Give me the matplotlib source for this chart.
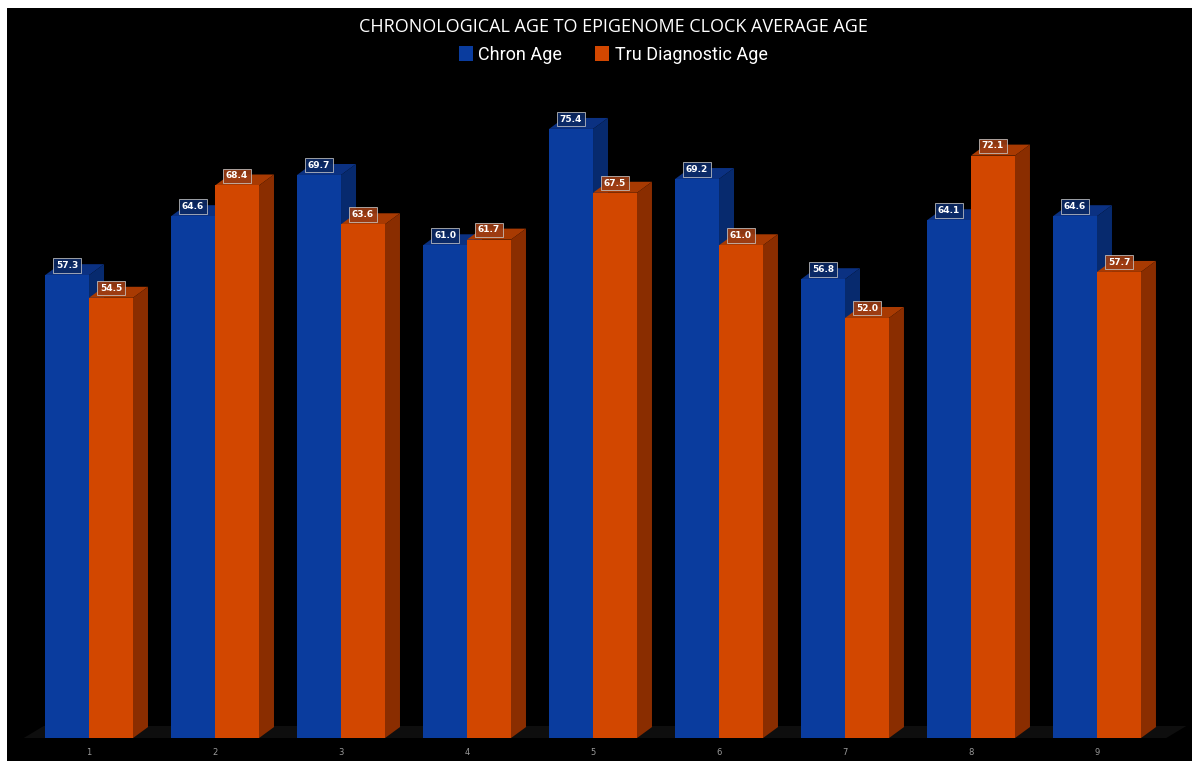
import matplotlib.pyplot as plt
from matplotlib.patches import Polygon, Patch
import numpy as np

groups = ['1', '2', '3', '4', '5', '6', '7', '8', '9']
chron_age = [57.3, 64.6, 69.7, 61.0, 75.4, 69.2, 56.8, 64.1, 64.6]
tru_age = [54.5, 68.4, 63.6, 61.7, 67.5, 61.0, 52.0, 72.1, 57.7]

title = 'CHRONOLOGICAL AGE TO EPIGENOME CLOCK AVERAGE AGE'
series_names = ['Chron Age', 'Tru Diagnostic Age']

# colours: front, top, side, label box
blue = ('#0a3c9e', '#0b3182', '#072a6e', '#0c2a66')
orange = ('#d24700', '#a83a02', '#8a2d00', '#9c3d14')

width = 0.349
dx, dy = 0.119, 1.36  # fake depth in data units

fig = plt.figure(figsize=(11.92, 7.61), dpi=100, facecolor='white')
ax = fig.add_axes([7 / 1192, 0, 1 - 7 / 1192, 1 - 8 / 761])
ax.set_facecolor('black')
ax.set_xlim(-0.651, 8.754)
ax.set_ylim(-2.84, 90.37)
ax.axis('off')
ax.add_patch(plt.Rectangle((0, 0), 1, 1, transform=ax.transAxes, color='black', zorder=0))

x = np.arange(len(groups))

# floor
x0, x1 = x[0] - width - 0.17, x[-1] + width + 0.2
ax.add_patch(Polygon([(x0, 0), (x1, 0), (x1 + 0.16, dy * 1.1), (x0 + 0.16, dy * 1.1)],
                     closed=True, facecolor='#0e0e0e', edgecolor='none', zorder=1))


def bar3d(left, h, cols, z):
    front, top, side, _ = cols
    ax.bar(left, h, width=width, align='edge', color=front, edgecolor='none', zorder=z + 0.2)
    ax.add_patch(Polygon([(left, h), (left + width, h), (left + width + dx, h + dy), (left + dx, h + dy)],
                         closed=True, facecolor=top, edgecolor='none', zorder=z))
    ax.add_patch(Polygon([(left + width, 0), (left + width + dx, dy), (left + width + dx, h + dy), (left + width, h)],
                         closed=True, facecolor=side, edgecolor='none', zorder=z))


for i in x:
    bar3d(i - width, chron_age[i], blue, 3)
    bar3d(i, tru_age[i], orange, 4)

for i in x:
    for left, h, cols in [(i - width, chron_age[i], blue), (i, tru_age[i], orange)]:
        ax.text(left + width / 2, h + 1.2, f'{h:.1f}', ha='center', va='center', color='white',
                fontsize=6.5, fontweight='bold', zorder=10,
                bbox=dict(boxstyle='square,pad=0.3', facecolor=cols[3], edgecolor='#c8c8c8',
                          linewidth=0.6, alpha=0.9))
    ax.text(i, -1.75, groups[i], ha='center', va='center', color='#9a9a9a', fontsize=6)

fig.text(613 / 1192, 1 - 27 / 761, title, ha='center', va='center', color='white',
         fontsize=13, family=['Open Sans', 'DejaVu Sans'])

handles = [Patch(facecolor=blue[0]), Patch(facecolor=orange[0])]
fig.legend(handles, series_names, loc='center', bbox_to_anchor=(613 / 1192, 1 - 55 / 761), ncol=2,
           frameon=False, labelcolor='white', handlelength=0.8, handleheight=0.9, handletextpad=0.3,
           columnspacing=1.8, prop={'family': ['Roboto', 'DejaVu Sans'], 'size': 13})

fig.savefig('out.png', dpi=100, facecolor=fig.get_facecolor())
